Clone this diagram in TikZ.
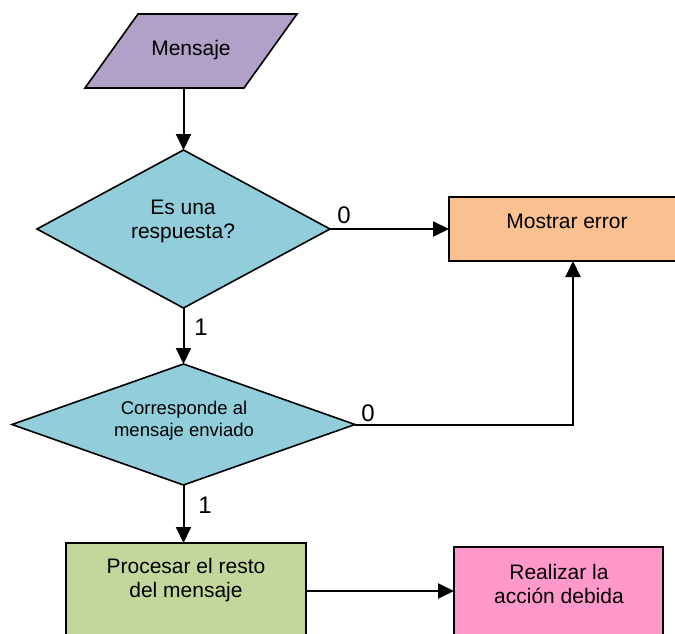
\documentclass[tikz,border=0pt]{standalone}
\usepackage{fontspec}
\setmainfont{Liberation Sans}
\usetikzlibrary{shapes.geometric,arrows.meta}
\definecolor{cmsg}{HTML}{B1A0C7}
\definecolor{cdec}{HTML}{92CDDC}
\definecolor{cerr}{HTML}{FAC090}
\definecolor{cproc}{HTML}{C3D69B}
\definecolor{cact}{HTML}{FF99CC}
\begin{document}
\begin{tikzpicture}[x=1pt,y=-1pt,
  every node/.style={inner sep=0pt, outer sep=0pt},
  shapebox/.style={draw, line width=1.6pt},
  decision/.style={shapebox, diamond, fill=cdec},
  arr/.style={line width=2pt, -{Triangle[length=16pt,width=15pt]}},
  txt/.style={align=center, font=\fontsize{21}{24}\selectfont},
  smalltxt/.style={align=center, font=\fontsize{18.5}{22}\selectfont},
  lbl/.style={font=\fontsize{24}{24}\selectfont}]
\clip (0,0) rectangle (675,634);
\fill[white] (0,0) rectangle (675,634);

% input parallelogram
\node[minimum width=212pt, minimum height=74pt] (msg) at (191,51) {};
\draw[shapebox, fill=cmsg, line join=miter]
  ([xshift=53pt]msg.north west) -- (msg.north east) -- ([xshift=-53pt]msg.south east) -- (msg.south west) -- cycle;
\node[txt] (tmsg) at (191,50) {Mensaje};

% decisions
\node[decision, minimum width=293pt, minimum height=158pt] (d1) at (183.5,229) {};
\node[txt] (t1) at (183,221) {Es una\\respuesta?};
\node[decision, minimum width=343pt, minimum height=121pt] (d2) at (183.5,424.5) {};
\node[smalltxt] (t2) at (184,421) {Corresponde al\\mensaje enviado};

% boxes
\node[shapebox, fill=cerr, minimum width=248pt, minimum height=64pt] (err) at (573,229) {};
\node[txt] (terr) at (567,221) {Mostrar error};
\node[shapebox, fill=cproc, minimum width=240pt, minimum height=130pt, anchor=north] (proc) at (186,543) {};
\node[txt] (tproc) at (186,580) {Procesar el resto\\del mensaje};
\node[shapebox, fill=cact, minimum width=209pt, minimum height=130pt, anchor=north] (act) at (558.5,547) {};
\node[txt] (tact) at (559,584) {Realizar la\\acción debida};

% connectors
\draw[arr] (msg.south -| d1.north) -- (d1.north);
\draw[arr] (d1.south) -- (d2.north);
\draw[arr] (d1.east) -- (err.west);
\draw[arr] (d2.east) -| (err.south);
\draw[arr] (d2.south) -- (d2.south |- proc.north);
\coordinate (mid) at (0,591);
\draw[arr] (proc.east |- mid) -- (act.west |- mid);

% labels
\node[lbl] (l0a) at (344,215) {0};
\node[lbl] (l0b) at (368,413) {0};
\node[lbl] (l1a) at (201,327) {1};
\node[lbl] (l1b) at (205,505) {1};
\end{tikzpicture}
\end{document}
